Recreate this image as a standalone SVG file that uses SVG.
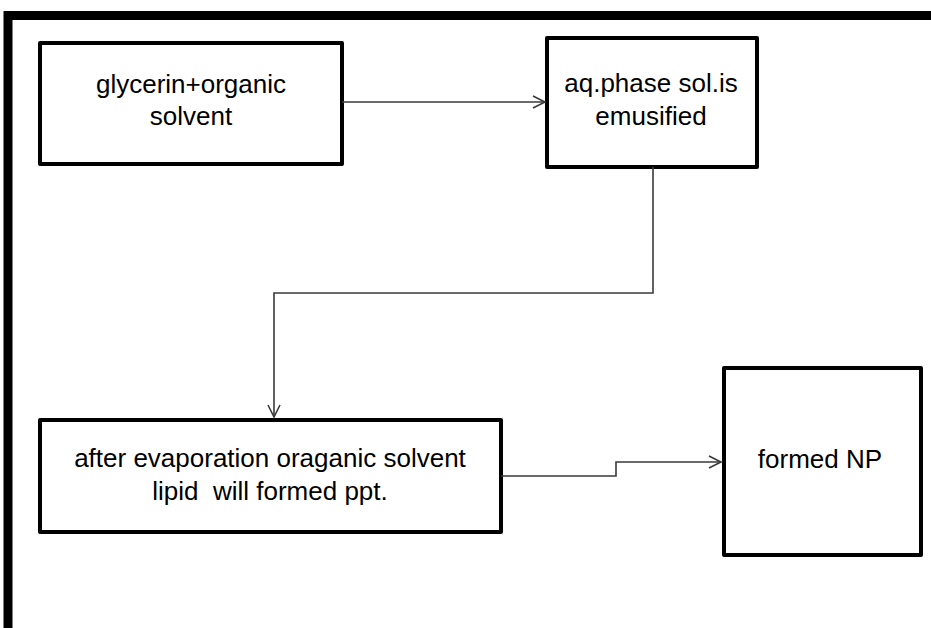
<svg xmlns="http://www.w3.org/2000/svg" width="931" height="628" viewBox="0 0 931 628">
<style>
.box{fill:#fff;stroke:#000;stroke-width:4;stroke-linejoin:round}
.lbl{font-family:"Liberation Sans",Arial,sans-serif;font-size:26px;fill:#000;text-anchor:middle}
.conn{fill:none;stroke:#3a3a3a;stroke-width:1.6}
</style>
<defs>
<marker id="arr" markerWidth="16" markerHeight="16" refX="13" refY="7" orient="auto" markerUnits="userSpaceOnUse">
<path d="M1,1 L13,7 L1,13" fill="none" stroke="#3a3a3a" stroke-width="1.6"/>
</marker>
</defs>
<rect x="0" y="0" width="931" height="628" fill="#fff"/>
<path d="M8,628 V15.5 H931" fill="none" stroke="#000" stroke-width="9"/>
<g id="n1">
<rect class="box" x="40" y="43" width="302" height="121"/>
<text class="lbl" x="191" y="93">glycerin+organic</text>
<text class="lbl" x="191" y="125">solvent</text>
</g>
<g id="n2">
<rect class="box" x="547" y="38" width="210" height="129"/>
<text class="lbl" x="651" y="92">aq.phase sol.is</text>
<text class="lbl" x="651" y="125">emusified</text>
</g>
<g id="n3">
<rect class="box" x="40" y="420" width="461" height="112"/>
<text class="lbl" x="270" y="467">after evaporation oraganic solvent</text>
<text class="lbl" x="270" y="500" xml:space="preserve">lipid  will formed ppt.</text>
</g>
<g id="n4">
<rect class="box" x="724" y="368" width="197" height="187"/>
<text class="lbl" x="820" y="468">formed NP</text>
</g>
<g id="connectors">
<path class="conn" d="M342,102 H545" marker-end="url(#arr)"/>
<path class="conn" d="M653,167 V293 H274 V417" marker-end="url(#arr)"/>
<path class="conn" d="M501,476 H616 V462 H721" marker-end="url(#arr)"/>
</g>
</svg>
